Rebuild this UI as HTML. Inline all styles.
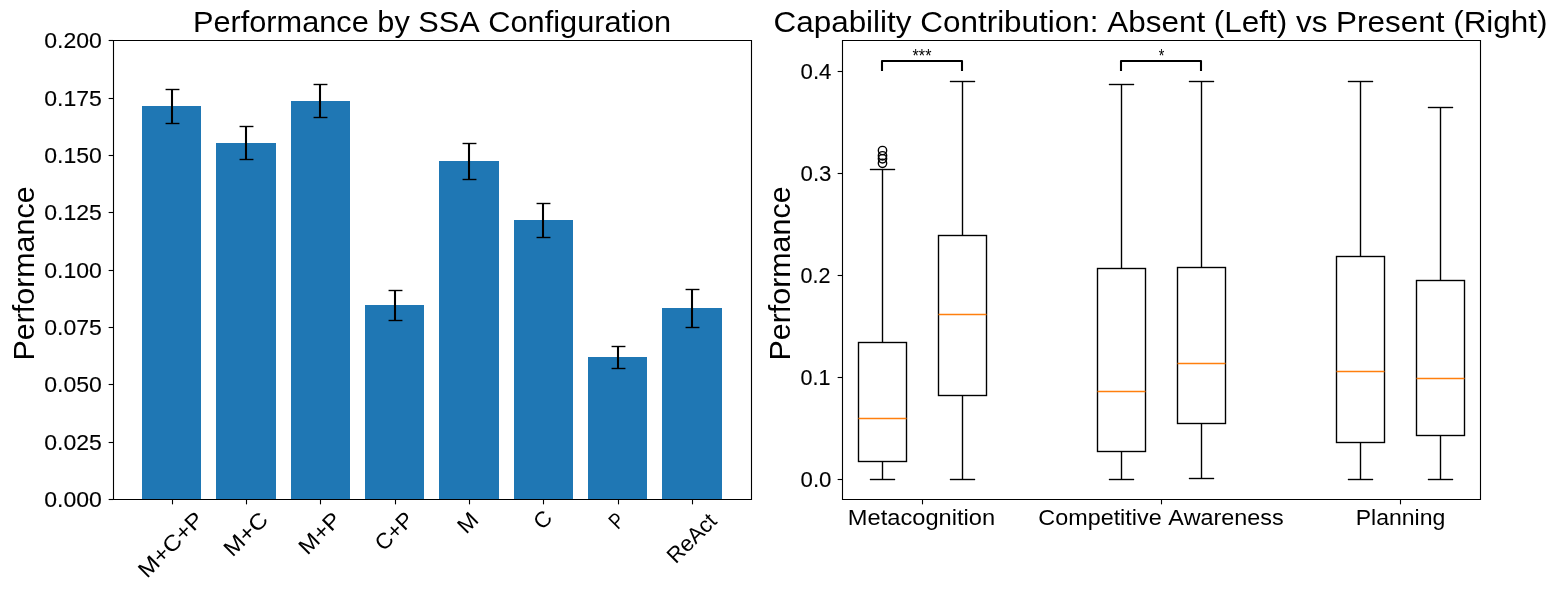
<!DOCTYPE html>
<html><head><meta charset="utf-8"><style>
html,body{margin:0;padding:0;background:#fff;}
svg{display:block;will-change:transform;}
text{font-family:"Liberation Sans",sans-serif;fill:#000;font-kerning:none;}
</style></head><body>
<svg width="1558" height="590" viewBox="0 0 1558 590">
<rect width="1558" height="590" fill="#fff"/>
<rect x="142" y="106" width="59" height="393" fill="#1f77b4"/>
<rect x="216" y="143" width="60" height="356" fill="#1f77b4"/>
<rect x="291" y="101" width="59" height="398" fill="#1f77b4"/>
<rect x="365" y="305" width="59" height="194" fill="#1f77b4"/>
<rect x="439" y="161" width="60" height="338" fill="#1f77b4"/>
<rect x="514" y="220" width="59" height="279" fill="#1f77b4"/>
<rect x="588" y="357" width="59" height="142" fill="#1f77b4"/>
<rect x="662" y="308" width="60" height="191" fill="#1f77b4"/>
<line x1="172" y1="89.5" x2="172" y2="123.5" stroke="#000" stroke-width="2.08" stroke-linecap="butt"/>
<line x1="165.56" y1="89.5" x2="179.44" y2="89.5" stroke="#000" stroke-width="1.39" stroke-linecap="butt"/>
<line x1="165.56" y1="123.5" x2="179.44" y2="123.5" stroke="#000" stroke-width="1.39" stroke-linecap="butt"/>
<line x1="246" y1="126.5" x2="246" y2="159.5" stroke="#000" stroke-width="2.08" stroke-linecap="butt"/>
<line x1="239.56" y1="126.5" x2="253.44" y2="126.5" stroke="#000" stroke-width="1.39" stroke-linecap="butt"/>
<line x1="239.56" y1="159.5" x2="253.44" y2="159.5" stroke="#000" stroke-width="1.39" stroke-linecap="butt"/>
<line x1="320" y1="84.5" x2="320" y2="117.5" stroke="#000" stroke-width="2.08" stroke-linecap="butt"/>
<line x1="313.56" y1="84.5" x2="327.44" y2="84.5" stroke="#000" stroke-width="1.39" stroke-linecap="butt"/>
<line x1="313.56" y1="117.5" x2="327.44" y2="117.5" stroke="#000" stroke-width="1.39" stroke-linecap="butt"/>
<line x1="395" y1="290.5" x2="395" y2="320.5" stroke="#000" stroke-width="2.08" stroke-linecap="butt"/>
<line x1="388.56" y1="290.5" x2="402.44" y2="290.5" stroke="#000" stroke-width="1.39" stroke-linecap="butt"/>
<line x1="388.56" y1="320.5" x2="402.44" y2="320.5" stroke="#000" stroke-width="1.39" stroke-linecap="butt"/>
<line x1="469" y1="143.5" x2="469" y2="179.5" stroke="#000" stroke-width="2.08" stroke-linecap="butt"/>
<line x1="462.56" y1="143.5" x2="476.44" y2="143.5" stroke="#000" stroke-width="1.39" stroke-linecap="butt"/>
<line x1="462.56" y1="179.5" x2="476.44" y2="179.5" stroke="#000" stroke-width="1.39" stroke-linecap="butt"/>
<line x1="543" y1="203.5" x2="543" y2="237.5" stroke="#000" stroke-width="2.08" stroke-linecap="butt"/>
<line x1="536.56" y1="203.5" x2="550.44" y2="203.5" stroke="#000" stroke-width="1.39" stroke-linecap="butt"/>
<line x1="536.56" y1="237.5" x2="550.44" y2="237.5" stroke="#000" stroke-width="1.39" stroke-linecap="butt"/>
<line x1="618" y1="346.5" x2="618" y2="368.5" stroke="#000" stroke-width="2.08" stroke-linecap="butt"/>
<line x1="611.56" y1="346.5" x2="625.44" y2="346.5" stroke="#000" stroke-width="1.39" stroke-linecap="butt"/>
<line x1="611.56" y1="368.5" x2="625.44" y2="368.5" stroke="#000" stroke-width="1.39" stroke-linecap="butt"/>
<line x1="692" y1="289.5" x2="692" y2="327.5" stroke="#000" stroke-width="2.08" stroke-linecap="butt"/>
<line x1="685.56" y1="289.5" x2="699.44" y2="289.5" stroke="#000" stroke-width="1.39" stroke-linecap="butt"/>
<line x1="685.56" y1="327.5" x2="699.44" y2="327.5" stroke="#000" stroke-width="1.39" stroke-linecap="butt"/>
<path d="M113.5 40.5H751.5V499.5H113.5Z" fill="none" stroke="#000" stroke-width="1.11" stroke-linejoin="miter" stroke-linecap="square"/>
<line x1="108.64" y1="499.5" x2="113.5" y2="499.5" stroke="#000" stroke-width="1.11" stroke-linecap="butt"/>
<line x1="108.64" y1="442.5" x2="113.5" y2="442.5" stroke="#000" stroke-width="1.11" stroke-linecap="butt"/>
<line x1="108.64" y1="384.5" x2="113.5" y2="384.5" stroke="#000" stroke-width="1.11" stroke-linecap="butt"/>
<line x1="108.64" y1="327.5" x2="113.5" y2="327.5" stroke="#000" stroke-width="1.11" stroke-linecap="butt"/>
<line x1="108.64" y1="270.5" x2="113.5" y2="270.5" stroke="#000" stroke-width="1.11" stroke-linecap="butt"/>
<line x1="108.64" y1="212.5" x2="113.5" y2="212.5" stroke="#000" stroke-width="1.11" stroke-linecap="butt"/>
<line x1="108.64" y1="155.5" x2="113.5" y2="155.5" stroke="#000" stroke-width="1.11" stroke-linecap="butt"/>
<line x1="108.64" y1="98.5" x2="113.5" y2="98.5" stroke="#000" stroke-width="1.11" stroke-linecap="butt"/>
<line x1="108.64" y1="40.5" x2="113.5" y2="40.5" stroke="#000" stroke-width="1.11" stroke-linecap="butt"/>
<line x1="172.5" y1="499.5" x2="172.5" y2="504.36" stroke="#000" stroke-width="1.11" stroke-linecap="butt"/>
<line x1="246.5" y1="499.5" x2="246.5" y2="504.36" stroke="#000" stroke-width="1.11" stroke-linecap="butt"/>
<line x1="320.5" y1="499.5" x2="320.5" y2="504.36" stroke="#000" stroke-width="1.11" stroke-linecap="butt"/>
<line x1="395.5" y1="499.5" x2="395.5" y2="504.36" stroke="#000" stroke-width="1.11" stroke-linecap="butt"/>
<line x1="469.5" y1="499.5" x2="469.5" y2="504.36" stroke="#000" stroke-width="1.11" stroke-linecap="butt"/>
<line x1="543.5" y1="499.5" x2="543.5" y2="504.36" stroke="#000" stroke-width="1.11" stroke-linecap="butt"/>
<line x1="618.5" y1="499.5" x2="618.5" y2="504.36" stroke="#000" stroke-width="1.11" stroke-linecap="butt"/>
<line x1="692.5" y1="499.5" x2="692.5" y2="504.36" stroke="#000" stroke-width="1.11" stroke-linecap="butt"/>
<rect x="858.5" y="342.5" width="48" height="119" fill="none" stroke="#000" stroke-width="1.39"/>
<line x1="882.5" y1="169.5" x2="882.5" y2="342.5" stroke="#000" stroke-width="1.39" stroke-linecap="butt"/>
<line x1="882.5" y1="461.5" x2="882.5" y2="479.5" stroke="#000" stroke-width="1.39" stroke-linecap="butt"/>
<line x1="870.54" y1="169.5" x2="894.46" y2="169.5" stroke="#000" stroke-width="1.39" stroke-linecap="square"/>
<line x1="870.54" y1="479.5" x2="894.46" y2="479.5" stroke="#000" stroke-width="1.39" stroke-linecap="square"/>
<line x1="858.5" y1="418.5" x2="906.5" y2="418.5" stroke="#ff7f0e" stroke-width="1.39" stroke-linecap="butt"/>
<rect x="938.5" y="235.5" width="48" height="160" fill="none" stroke="#000" stroke-width="1.39"/>
<line x1="962.5" y1="81.5" x2="962.5" y2="235.5" stroke="#000" stroke-width="1.39" stroke-linecap="butt"/>
<line x1="962.5" y1="395.5" x2="962.5" y2="479.5" stroke="#000" stroke-width="1.39" stroke-linecap="butt"/>
<line x1="950.54" y1="81.5" x2="974.46" y2="81.5" stroke="#000" stroke-width="1.39" stroke-linecap="square"/>
<line x1="950.54" y1="479.5" x2="974.46" y2="479.5" stroke="#000" stroke-width="1.39" stroke-linecap="square"/>
<line x1="938.5" y1="314.5" x2="986.5" y2="314.5" stroke="#ff7f0e" stroke-width="1.39" stroke-linecap="butt"/>
<rect x="1097.5" y="268.5" width="48" height="183" fill="none" stroke="#000" stroke-width="1.39"/>
<line x1="1121.5" y1="84.5" x2="1121.5" y2="268.5" stroke="#000" stroke-width="1.39" stroke-linecap="butt"/>
<line x1="1121.5" y1="451.5" x2="1121.5" y2="479.5" stroke="#000" stroke-width="1.39" stroke-linecap="butt"/>
<line x1="1109.54" y1="84.5" x2="1133.46" y2="84.5" stroke="#000" stroke-width="1.39" stroke-linecap="square"/>
<line x1="1109.54" y1="479.5" x2="1133.46" y2="479.5" stroke="#000" stroke-width="1.39" stroke-linecap="square"/>
<line x1="1097.5" y1="391.5" x2="1145.5" y2="391.5" stroke="#ff7f0e" stroke-width="1.39" stroke-linecap="butt"/>
<rect x="1177.5" y="267.5" width="48" height="156" fill="none" stroke="#000" stroke-width="1.39"/>
<line x1="1201.5" y1="81.5" x2="1201.5" y2="267.5" stroke="#000" stroke-width="1.39" stroke-linecap="butt"/>
<line x1="1201.5" y1="423.5" x2="1201.5" y2="478.5" stroke="#000" stroke-width="1.39" stroke-linecap="butt"/>
<line x1="1189.54" y1="81.5" x2="1213.46" y2="81.5" stroke="#000" stroke-width="1.39" stroke-linecap="square"/>
<line x1="1189.54" y1="478.5" x2="1213.46" y2="478.5" stroke="#000" stroke-width="1.39" stroke-linecap="square"/>
<line x1="1177.5" y1="363.5" x2="1225.5" y2="363.5" stroke="#ff7f0e" stroke-width="1.39" stroke-linecap="butt"/>
<rect x="1336.5" y="256.5" width="48" height="186" fill="none" stroke="#000" stroke-width="1.39"/>
<line x1="1360.5" y1="81.5" x2="1360.5" y2="256.5" stroke="#000" stroke-width="1.39" stroke-linecap="butt"/>
<line x1="1360.5" y1="442.5" x2="1360.5" y2="479.5" stroke="#000" stroke-width="1.39" stroke-linecap="butt"/>
<line x1="1348.54" y1="81.5" x2="1372.46" y2="81.5" stroke="#000" stroke-width="1.39" stroke-linecap="square"/>
<line x1="1348.54" y1="479.5" x2="1372.46" y2="479.5" stroke="#000" stroke-width="1.39" stroke-linecap="square"/>
<line x1="1336.5" y1="371.5" x2="1384.5" y2="371.5" stroke="#ff7f0e" stroke-width="1.39" stroke-linecap="butt"/>
<rect x="1416.5" y="280.5" width="48" height="155" fill="none" stroke="#000" stroke-width="1.39"/>
<line x1="1440.5" y1="107.5" x2="1440.5" y2="280.5" stroke="#000" stroke-width="1.39" stroke-linecap="butt"/>
<line x1="1440.5" y1="435.5" x2="1440.5" y2="479.5" stroke="#000" stroke-width="1.39" stroke-linecap="butt"/>
<line x1="1428.54" y1="107.5" x2="1452.46" y2="107.5" stroke="#000" stroke-width="1.39" stroke-linecap="square"/>
<line x1="1428.54" y1="479.5" x2="1452.46" y2="479.5" stroke="#000" stroke-width="1.39" stroke-linecap="square"/>
<line x1="1416.5" y1="378.5" x2="1464.5" y2="378.5" stroke="#ff7f0e" stroke-width="1.39" stroke-linecap="butt"/>
<circle cx="882.5" cy="150.5" r="4.17" fill="none" stroke="#000" stroke-width="1.39"/>
<circle cx="882.5" cy="155.8" r="4.17" fill="none" stroke="#000" stroke-width="1.39"/>
<circle cx="882.5" cy="158.8" r="4.17" fill="none" stroke="#000" stroke-width="1.39"/>
<circle cx="882.5" cy="163.3" r="4.17" fill="none" stroke="#000" stroke-width="1.39"/>
<path d="M882 71V61H962V71" fill="none" stroke="#000" stroke-width="2.08" stroke-linejoin="round" stroke-linecap="butt"/>
<path d="M1121 71V61H1201V71" fill="none" stroke="#000" stroke-width="2.08" stroke-linejoin="round" stroke-linecap="butt"/>
<path d="M842.5 40.5H1480.5V499.5H842.5Z" fill="none" stroke="#000" stroke-width="1.11" stroke-linecap="square"/>
<line x1="837.64" y1="479.5" x2="842.5" y2="479.5" stroke="#000" stroke-width="1.11" stroke-linecap="butt"/>
<line x1="837.64" y1="377.5" x2="842.5" y2="377.5" stroke="#000" stroke-width="1.11" stroke-linecap="butt"/>
<line x1="837.64" y1="275.5" x2="842.5" y2="275.5" stroke="#000" stroke-width="1.11" stroke-linecap="butt"/>
<line x1="837.64" y1="173.5" x2="842.5" y2="173.5" stroke="#000" stroke-width="1.11" stroke-linecap="butt"/>
<line x1="837.64" y1="71.5" x2="842.5" y2="71.5" stroke="#000" stroke-width="1.11" stroke-linecap="butt"/>
<line x1="922.5" y1="499.5" x2="922.5" y2="504.36" stroke="#000" stroke-width="1.11" stroke-linecap="butt"/>
<line x1="1161.5" y1="499.5" x2="1161.5" y2="504.36" stroke="#000" stroke-width="1.11" stroke-linecap="butt"/>
<line x1="1400.5" y1="499.5" x2="1400.5" y2="504.36" stroke="#000" stroke-width="1.11" stroke-linecap="butt"/>
<text transform="translate(175.969 549.969) rotate(-45)" font-size="22.100" text-anchor="middle" textLength="82.247" lengthAdjust="spacingAndGlyphs">M+C+P</text>
<text transform="translate(250.969 539.469) rotate(-45)" font-size="22.100" text-anchor="middle" textLength="51.957" lengthAdjust="spacingAndGlyphs">M+C</text>
<text transform="translate(324.969 538.469) rotate(-45)" font-size="22.100" text-anchor="middle" textLength="49.126" lengthAdjust="spacingAndGlyphs">M+P</text>
<text transform="translate(399.469 536.469) rotate(-45)" font-size="22.100" text-anchor="middle" textLength="44.198" lengthAdjust="spacingAndGlyphs">C+P</text>
<text transform="translate(472.969 527.969) rotate(-45)" font-size="22.100" text-anchor="middle" textLength="19.201" lengthAdjust="spacingAndGlyphs">M</text>
<text transform="translate(547.969 524.969) rotate(-45)" font-size="22.100" text-anchor="middle" textLength="16.083" lengthAdjust="spacingAndGlyphs">C</text>
<text transform="translate(621.969 525.969) rotate(-45)" font-size="22.100" text-anchor="middle" textLength="11.939" lengthAdjust="spacingAndGlyphs">P</text>
<text transform="translate(696.969 543.469) rotate(-45)" font-size="22.100" text-anchor="middle" textLength="59.833" lengthAdjust="spacingAndGlyphs">ReAct</text>
<text transform="translate(34.290 273.500) rotate(-90)" font-size="29.400" text-anchor="middle" textLength="174.076" lengthAdjust="spacingAndGlyphs">Performance</text>
<text transform="translate(73.000 506.735)" font-size="22.700" text-anchor="middle" textLength="57.680" lengthAdjust="spacingAndGlyphs" stroke="#000" stroke-width="0.12">0.000</text>
<text transform="translate(73.000 449.735)" font-size="22.700" text-anchor="middle" textLength="57.680" lengthAdjust="spacingAndGlyphs" stroke="#000" stroke-width="0.12">0.025</text>
<text transform="translate(73.000 391.735)" font-size="22.700" text-anchor="middle" textLength="57.680" lengthAdjust="spacingAndGlyphs" stroke="#000" stroke-width="0.12">0.050</text>
<text transform="translate(73.000 334.735)" font-size="22.700" text-anchor="middle" textLength="57.680" lengthAdjust="spacingAndGlyphs" stroke="#000" stroke-width="0.12">0.075</text>
<text transform="translate(73.000 277.735)" font-size="22.700" text-anchor="middle" textLength="57.680" lengthAdjust="spacingAndGlyphs" stroke="#000" stroke-width="0.12">0.100</text>
<text transform="translate(73.000 219.735)" font-size="22.700" text-anchor="middle" textLength="57.680" lengthAdjust="spacingAndGlyphs" stroke="#000" stroke-width="0.12">0.125</text>
<text transform="translate(73.000 162.735)" font-size="22.700" text-anchor="middle" textLength="57.680" lengthAdjust="spacingAndGlyphs" stroke="#000" stroke-width="0.12">0.150</text>
<text transform="translate(73.000 105.735)" font-size="22.700" text-anchor="middle" textLength="57.680" lengthAdjust="spacingAndGlyphs" stroke="#000" stroke-width="0.12">0.175</text>
<text transform="translate(73.000 47.735)" font-size="22.700" text-anchor="middle" textLength="57.680" lengthAdjust="spacingAndGlyphs" stroke="#000" stroke-width="0.12">0.200</text>
<text transform="translate(432.000 32.290)" font-size="29.400" text-anchor="middle" textLength="478.133" lengthAdjust="spacingAndGlyphs">Performance by SSA Configuration</text>
<text transform="translate(922.000 61.645)" font-size="19.000" text-anchor="middle" textLength="18.830" lengthAdjust="spacingAndGlyphs">***</text>
<text transform="translate(1161.500 61.645)" font-size="19.000" text-anchor="middle" textLength="5.588" lengthAdjust="spacingAndGlyphs">*</text>
<text transform="translate(921.500 524.735)" font-size="22.100" text-anchor="middle" textLength="147.297" lengthAdjust="spacingAndGlyphs">Metacognition</text>
<text transform="translate(1161.000 524.735)" font-size="22.100" text-anchor="middle" textLength="245.288" lengthAdjust="spacingAndGlyphs">Competitive Awareness</text>
<text transform="translate(1400.500 524.735)" font-size="22.100" text-anchor="middle" textLength="89.622" lengthAdjust="spacingAndGlyphs">Planning</text>
<text transform="translate(790.290 273.500) rotate(-90)" font-size="29.400" text-anchor="middle" textLength="174.076" lengthAdjust="spacingAndGlyphs">Performance</text>
<text transform="translate(816.000 486.735)" font-size="22.700" text-anchor="middle" textLength="30.900" lengthAdjust="spacingAndGlyphs" stroke="#000" stroke-width="0.12">0.0</text>
<text transform="translate(815.500 384.735)" font-size="22.700" text-anchor="middle" textLength="29.870" lengthAdjust="spacingAndGlyphs" stroke="#000" stroke-width="0.12">0.1</text>
<text transform="translate(815.500 282.735)" font-size="22.700" text-anchor="middle" textLength="29.870" lengthAdjust="spacingAndGlyphs" stroke="#000" stroke-width="0.12">0.2</text>
<text transform="translate(816.000 180.735)" font-size="22.700" text-anchor="middle" textLength="30.900" lengthAdjust="spacingAndGlyphs" stroke="#000" stroke-width="0.12">0.3</text>
<text transform="translate(816.000 78.735)" font-size="22.700" text-anchor="middle" textLength="30.900" lengthAdjust="spacingAndGlyphs" stroke="#000" stroke-width="0.12">0.4</text>
<text transform="translate(1160.500 32.290)" font-size="29.400" text-anchor="middle" textLength="774.051" lengthAdjust="spacingAndGlyphs">Capability Contribution: Absent (Left) vs Present (Right)</text>
</svg>
</body></html>
